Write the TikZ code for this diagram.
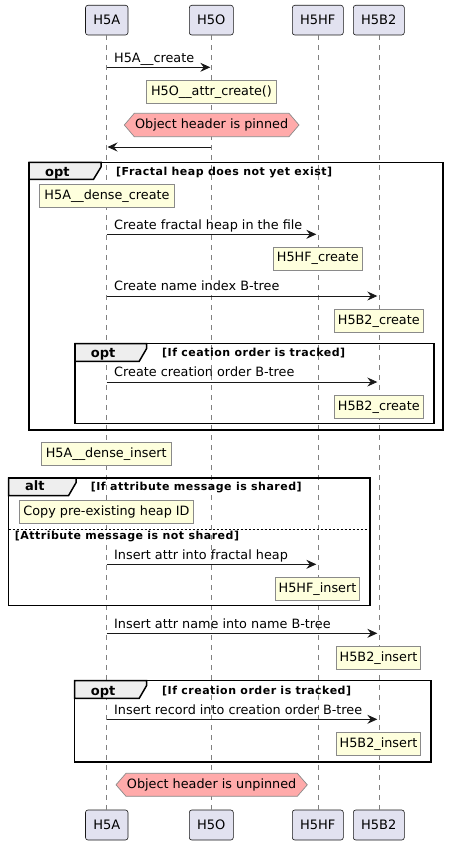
\documentclass[tikz,border=0pt]{standalone}
\usepackage{fontspec}
\setmainfont{DejaVu Sans}
\newfontfamily\condfont[LetterSpace=4.5]{DejaVu Sans}
\usetikzlibrary{arrows.meta}
\definecolor{partfill}{HTML}{E2E2F0}
\definecolor{partdraw}{HTML}{181818}
\definecolor{notefill}{HTML}{FEFFDD}
\definecolor{notedraw}{HTML}{8A8A8A}
\definecolor{hexfill}{HTML}{FFAAAA}
\definecolor{tabfill}{HTML}{EEEEEE}
\definecolor{lifecol}{HTML}{808080}
\begin{document}
\begin{tikzpicture}[x=1pt,y=-1pt,
  txt/.style={font=\fontsize{12.8}{15}\selectfont},
  part/.style={font=\fontsize{13}{15}\selectfont,draw=partdraw,line width=0.6pt,fill=partfill,rounded corners=2.5pt,inner sep=0pt},
  notebox/.style={txt,draw=notedraw,line width=0.7pt,fill=notefill,inner sep=0pt},
  hexshape/.style={draw=notedraw,line width=0.7pt,fill=hexfill},
  hextext/.style={txt,inner sep=0pt},
  lbl/.style={txt,anchor=base west,inner sep=0pt},
  life/.style={draw=lifecol,line width=0.55pt,dash pattern=on 5pt off 5pt},
  msg/.style={draw=partdraw,line width=0.8pt,-{Stealth[length=10pt,width=9pt,inset=3.5pt]}},
  frame/.style={draw=black,line width=1.5pt},
  tabshape/.style={draw=black,line width=1.5pt,fill=tabfill},
  tablbl/.style={font=\fontsize{13}{15}\selectfont\bfseries,anchor=base west,inner sep=0pt},
  cond/.style={font=\condfont\fontsize{11}{13}\selectfont\bfseries,anchor=base west,inner sep=0pt},
  sep/.style={draw=black,line width=0.6pt,dash pattern=on 2pt off 2pt}
]
\useasboundingbox[fill=white] (0,0) rectangle (448,845);

% participants
\node[part,minimum width=42.5pt,minimum height=29.7pt] (pA) at (106.75,20.15) {H5A};
\node[part,minimum width=44pt,minimum height=29.7pt] (pO) at (211.3,20.15) {H5O};
\node[part,minimum width=51pt,minimum height=29.7pt] (pHF) at (317.8,20.15) {H5HF};
\node[part,minimum width=51pt,minimum height=29.7pt] (pB) at (378.8,20.15) {H5B2};
\node[part,minimum width=42.5pt,minimum height=30pt] (qA) at (106.75,825) {H5A};
\node[part,minimum width=44pt,minimum height=30pt] (qO) at (211.3,825) {H5O};
\node[part,minimum width=51pt,minimum height=30pt] (qHF) at (317.8,825) {H5HF};
\node[part,minimum width=51pt,minimum height=30pt] (qB) at (378.8,825) {H5B2};

% lifelines
\draw[life] (pA) -- (qA);
\draw[life] (pO) -- (qO);
\draw[life] (pHF) -- (qHF);
\draw[life] (pB) -- (qB);

% frames
\draw[frame] (29,162.3) rectangle (443,430);
\draw[tabshape] (29,162.3) -- (101,162.3) -- (101,167) -- (93.5,179.3) -- (29,179.3) -- cycle;
\node[tablbl] (f1t) at (45,176) {opt};
\node[cond] (f1c) at (116,175.3) {[Fractal heap does not yet exist]};

\draw[frame] (75,343.7) rectangle (434,423.7);
\draw[tabshape] (75,343.7) -- (146.7,343.7) -- (146.7,348.4) -- (139.2,361.3) -- (75,361.3) -- cycle;
\node[tablbl] (f2t) at (90.7,357.3) {opt};
\node[cond] (f2c) at (162,356.7) {[If ceation order is tracked]};

\draw[frame] (8.7,478) rectangle (370,605.3);
\draw[tabshape] (8.7,478) -- (76,478) -- (76,482.7) -- (68.5,495.7) -- (8.7,495.7) -- cycle;
\node[tablbl] (f3t) at (25,490.7) {alt};
\node[cond] (f3c) at (90.7,490) {[If attribute message is shared]};
\draw[sep] (8.7,529.3) -- (370,529.3);
\node[cond] (f3e) at (14.7,539) {[Attribute message is not shared]};

\draw[frame] (74.7,680.7) rectangle (431,762);
\draw[tabshape] (74.7,680.7) -- (146.7,680.7) -- (146.7,685.4) -- (139.2,698.3) -- (74.7,698.3) -- cycle;
\node[tablbl] (f4t) at (90.7,695) {opt};
\node[cond] (f4c) at (162,694.3) {[If creation order is tracked]};

% messages
\coordinate (m1a) at (106.5,67.3); \coordinate (m1b) at (210.3,67.3);
\draw[msg] (m1a) -- (m1b);
\node[lbl] (l1) at (114,62.5) {H5A\_\_create};

\node[notebox,minimum width=129.6pt,minimum height=23pt] (n1) at (211.5,91.8) {H5O\_\_attr\_create()};

\draw[hexshape] (124.3,125) -- (134.3,113.3) -- (289,113.3) -- (299,125) -- (289,136.7) -- (134.3,136.7) -- cycle;
\node[hextext] (h1) at (211.65,125) {Object header is pinned};

\coordinate (m2a) at (211.3,147); \coordinate (m2b) at (107.5,147);
\draw[msg] (m2a) -- (m2b);

\node[notebox,minimum width=134.6pt,minimum height=23pt] (n2) at (107,195.9) {H5A\_\_dense\_create};

\coordinate (m3a) at (106.5,234.3); \coordinate (m3b) at (316.3,234.3);
\draw[msg] (m3a) -- (m3b);
\node[lbl] (l3) at (114,229) {Create fractal heap in the file};

\node[notebox,minimum width=89pt,minimum height=22.7pt] (n3) at (317.8,258.65) {H5HF\_create};

\coordinate (m4a) at (106.5,296); \coordinate (m4b) at (377.3,296);
\draw[msg] (m4a) -- (m4b);
\node[lbl] (l4) at (114,290.8) {Create name index B-tree};

\node[notebox,minimum width=89pt,minimum height=23pt] (n4) at (378.8,320.8) {H5B2\_create};

\coordinate (m5a) at (106.5,382); \coordinate (m5b) at (377.3,382);
\draw[msg] (m5a) -- (m5b);
\node[lbl] (l5) at (114,376.8) {Create creation order B-tree};

\node[notebox,minimum width=89pt,minimum height=23pt] (n5) at (378.8,406.8) {H5B2\_create};

\node[notebox,minimum width=130pt,minimum height=23pt] (n6) at (106.3,453.8) {H5A\_\_dense\_insert};

\node[notebox,minimum width=173.6pt,minimum height=23pt] (n7) at (106.5,511.8) {Copy pre-existing heap ID};

\coordinate (m6a) at (106.5,564.3); \coordinate (m6b) at (316.3,564.3);
\draw[msg] (m6a) -- (m6b);
\node[lbl] (l6) at (114,559) {Insert attr into fractal heap};

\node[notebox,minimum width=84.4pt,minimum height=23.3pt] (n8) at (317.5,588.65) {H5HF\_insert};

\coordinate (m7a) at (106.5,633.3); \coordinate (m7b) at (377.3,633.3);
\draw[msg] (m7a) -- (m7b);
\node[lbl] (l7) at (114,628) {Insert attr name into name B-tree};

\node[notebox,minimum width=84.4pt,minimum height=23pt] (n9) at (378.5,657.8) {H5B2\_insert};

\coordinate (m8a) at (106.5,719.3); \coordinate (m8b) at (377.3,719.3);
\draw[msg] (m8a) -- (m8b);
\node[lbl] (l8) at (114,714) {Insert record into creation order B-tree};

\node[notebox,minimum width=84.4pt,minimum height=23pt] (n10) at (378.5,743.8) {H5B2\_insert};

\draw[hexshape] (116,784.8) -- (126,773.3) -- (297.3,773.3) -- (307.3,784.8) -- (297.3,796.3) -- (126,796.3) -- cycle;
\node[hextext] (h2) at (211.65,784.8) {Object header is unpinned};

\end{tikzpicture}
\end{document}
